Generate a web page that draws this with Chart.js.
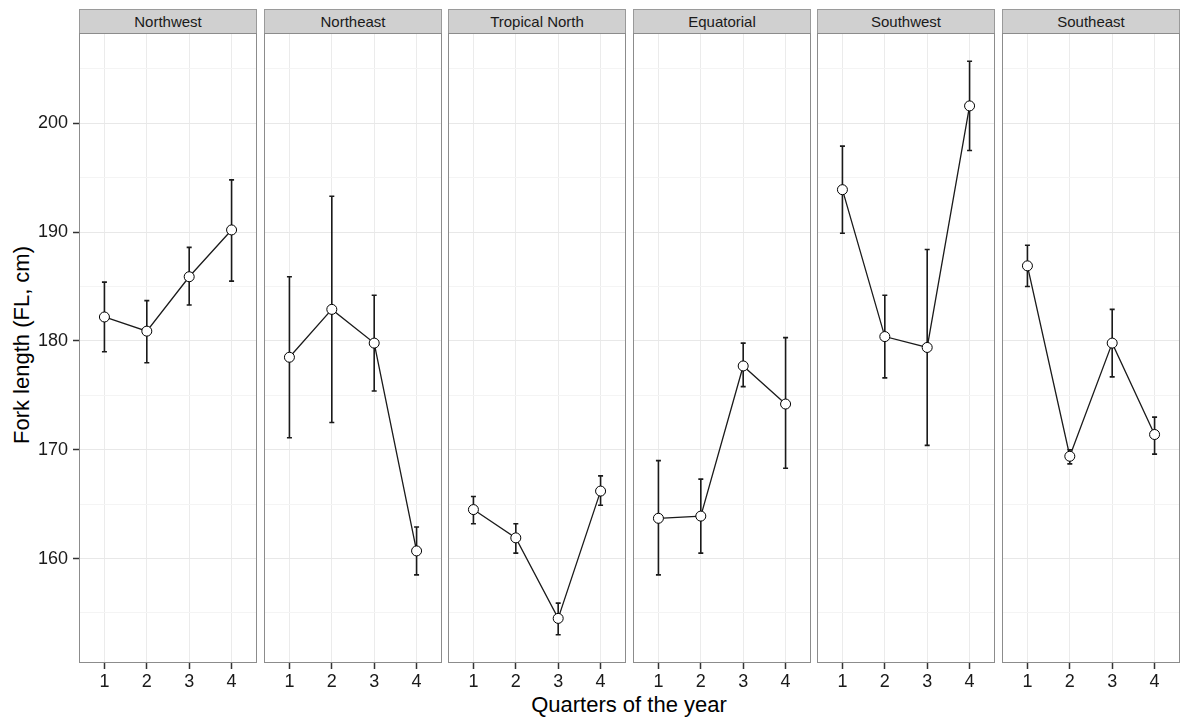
<!DOCTYPE html>
<html>
<head>
<meta charset="utf-8">
<script src="https://cdn.jsdelivr.net/npm/chart.js@4.4.1/dist/chart.umd.min.js"></script>
<style>
  body { margin: 0; background: #fff; font-family: "Liberation Sans", Arial, sans-serif; }
  #wrap { position: relative; width: 1188px; height: 722px; overflow: hidden; }
  .panel { position: absolute; }
  .strip { position: absolute; top: 9px; height: 23px; background: #d0d0d0; border: 1px solid #9a9a9a;
           box-sizing: content-box; text-align: center; font-size: 15px; line-height: 23px; color: #1a1a1a; }
  .ytitle { position: absolute; left: 22px; top: 345px; transform: translate(-50%, -50%) rotate(-90deg);
            font-size: 22px; color: #000; white-space: nowrap; }
  .xtitle { position: absolute; left: 629px; top: 705px; transform: translate(-50%, -50%);
            font-size: 22px; color: #000; white-space: nowrap; }
</style>
</head>
<body>
<div id="wrap">
  <div class="ytitle">Fork length (FL, cm)</div>
  <div class="xtitle">Quarters of the year</div>
</div>
<script>
// data
const quarters = [1, 2, 3, 4]
const regions = ['Northwest', 'Northeast', 'Tropical North', 'Equatorial', 'Southwest', 'Southeast']

const nwMean = [182.2, 180.9, 185.9, 190.2]
const nwLow  = [179.0, 178.0, 183.3, 185.5]
const nwHigh = [185.4, 183.7, 188.6, 194.8]

const neMean = [178.5, 182.9, 179.8, 160.7]
const neLow  = [171.1, 172.5, 175.4, 158.5]
const neHigh = [185.9, 193.3, 184.2, 162.9]

const tnMean = [164.5, 161.9, 154.5, 166.2]
const tnLow  = [163.2, 160.5, 153.0, 164.9]
const tnHigh = [165.7, 163.2, 155.9, 167.6]

const eqMean = [163.7, 163.9, 177.7, 174.2]
const eqLow  = [158.5, 160.5, 175.8, 168.3]
const eqHigh = [169.0, 167.3, 179.8, 180.3]

const swMean = [193.9, 180.4, 179.4, 201.6]
const swLow  = [189.9, 176.6, 170.4, 197.5]
const swHigh = [197.9, 184.2, 188.4, 205.7]

const seMean = [186.9, 169.4, 179.8, 171.4]
const seLow  = [185.0, 168.7, 176.7, 169.6]
const seHigh = [188.8, 170.0, 182.9, 173.0]

const yTicks = [155, 160, 165, 170, 175, 180, 185, 190, 195, 200, 205]
const yMin = 150.4, yMax = 208.3

const series = [
  [nwMean, nwLow, nwHigh], [neMean, neLow, neHigh], [tnMean, tnLow, tnHigh],
  [eqMean, eqLow, eqHigh], [swMean, swLow, swHigh], [seMean, seLow, seHigh]
]

// layout
const panelTop = 33, panelBottom = 663, panelW = 178, firstLeft = 79, step = 184.6
const xAxisH = 40, yAxisW = 79

const errorBars = {
  id: 'errorBars',
  beforeDatasetsDraw(chart) {
    const ctx = chart.ctx, xs = chart.scales.x, ys = chart.scales.y
    chart.data.datasets.forEach(ds => {
      ctx.save()
      ctx.strokeStyle = '#1a1a1a'
      ctx.lineWidth = 1.6
      ds.data.forEach((p, i) => {
        const x = xs.getPixelForValue(p.x)
        const y1 = ys.getPixelForValue(ds.low[i]), y2 = ys.getPixelForValue(ds.high[i])
        ctx.beginPath()
        ctx.moveTo(x, y1); ctx.lineTo(x, y2)
        ctx.moveTo(x - 2.5, y1); ctx.lineTo(x + 2.5, y1)
        ctx.moveTo(x - 2.5, y2); ctx.lineTo(x + 2.5, y2)
        ctx.stroke()
      })
      ctx.restore()
    })
  }
}

const panelBorder = {
  id: 'panelBorder',
  afterDraw(chart) {
    const a = chart.chartArea, ctx = chart.ctx
    ctx.save()
    ctx.strokeStyle = '#8c8c8c'
    ctx.lineWidth = 1
    ctx.strokeRect(Math.round(a.left) + 0.5, Math.round(a.top) + 0.5, Math.round(a.right - a.left) - 1, Math.round(a.bottom - a.top) - 1)
    ctx.restore()
  }
}

const noPad = s => { s.paddingTop = 0; s.paddingBottom = 0; s.paddingLeft = 0; s.paddingRight = 0 }

const wrap = document.getElementById('wrap')

regions.forEach((name, i) => {
  const left = Math.round(firstLeft + i * step)
  const first = i == 0
  const padL = first ? yAxisW : 0

  let strip = document.createElement('div')
  strip.className = 'strip'
  strip.style.left = left + 'px'
  strip.style.width = (panelW - 2) + 'px'
  strip.textContent = name
  wrap.appendChild(strip)

  let div = document.createElement('div')
  div.className = 'panel'
  div.style.left = (left - padL) + 'px'
  div.style.top = panelTop + 'px'
  let cv = document.createElement('canvas')
  cv.width = panelW + padL
  cv.height = panelBottom - panelTop + xAxisH
  div.appendChild(cv)
  wrap.appendChild(div)

  const [mean, low, high] = series[i]

  new Chart(cv, {
    type: 'line',
    data: {
      datasets: [{
        data: quarters.map((q, k) => ({ x: q, y: mean[k] })),
        low: low,
        high: high,
        borderColor: '#1a1a1a',
        borderWidth: 1.3,
        tension: 0,
        pointRadius: 5,
        pointBackgroundColor: '#fff',
        pointBorderColor: '#000',
        pointBorderWidth: 1
      }]
    },
    options: {
      responsive: false,
      animation: false,
      devicePixelRatio: 1,
      layout: { padding: 0, autoPadding: false },
      plugins: { legend: { display: false }, tooltip: { enabled: false } },
      scales: {
        x: {
          type: 'linear',
          min: 0.4, max: 4.6,
          afterBuildTicks: s => { s.ticks = quarters.map(v => ({ value: v })) },
          afterFit: s => { s.height = xAxisH; noPad(s) },
          border: { display: false },
          grid: { color: '#ebebeb', lineWidth: 1, drawTicks: true, tickLength: 6, tickColor: '#333', tickWidth: 1.5 },
          ticks: { color: '#1a1a1a', font: { family: 'Liberation Sans, Arial', size: 18 }, padding: 2, maxRotation: 0 }
        },
        y: {
          min: yMin, max: yMax,
          afterBuildTicks: s => { s.ticks = yTicks.map(v => ({ value: v })) },
          afterFit: s => { s.width = padL; noPad(s) },
          border: { display: false },
          grid: {
            color: c => c.tick && c.tick.value % 10 == 0 ? '#e8e8e8' : '#f4f4f4',
            lineWidth: 1,
            drawTicks: first,
            tickLength: 6,
            tickWidth: 1.5,
            tickColor: c => c.tick && c.tick.value % 10 == 0 ? '#333' : 'rgba(0,0,0,0)'
          },
          ticks: {
            display: first,
            color: '#1a1a1a',
            font: { family: 'Liberation Sans, Arial', size: 18 },
            padding: 5,
            callback: v => v % 10 == 0 ? String(v) : ''
          }
        }
      }
    },
    plugins: [errorBars, panelBorder]
  })
})
</script>
</body>
</html>
